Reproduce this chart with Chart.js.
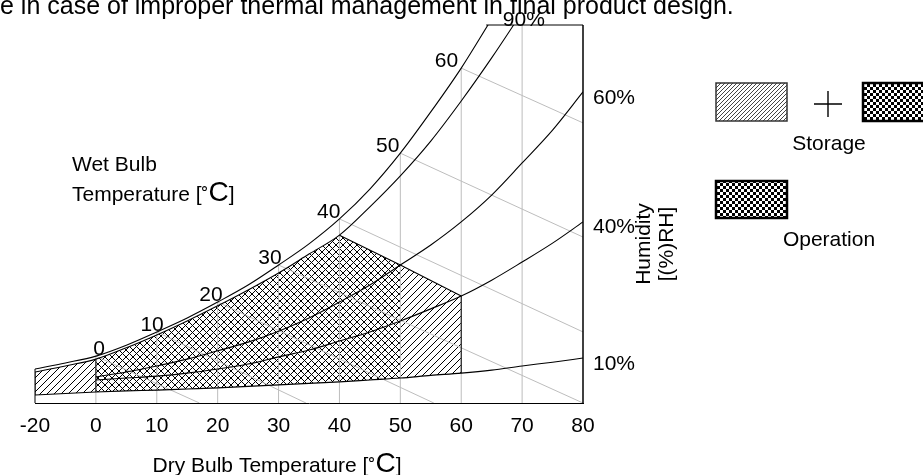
<!DOCTYPE html>
<html><head><meta charset="utf-8">
<script src="https://cdn.jsdelivr.net/npm/chart.js@4.4.1/dist/chart.umd.min.js"></script>
<style>html,body{margin:0;padding:0;background:#fff;}#wrap{width:923px;height:475px;position:relative;}</style>
</head><body><div id="wrap"><canvas id="c"></canvas></div>
<script>
// ---------- data ----------
const xTickLabels = ['-20','0','10','20','30','40','50','60','70','80'];
// saturation line (100 %), y in relative humidity-ratio units (0..100 = plot height)
const satTemps  = [-20,-10,0,5,10,15,20,25,30,35,40,45,50,55,60,65];
const satValues = [9.0,10.6,12.4,15.3,18.8,22.5,26.7,31.2,36.5,42.1,48.7,56.6,66.1,77.0,88.6,101.6];
const rh90Temps  = [-20,-10,0,5,10,15,20,25,30,35,40,45,50,55,60,65,70];
const rh90Values = [8.2,9.8,11.6,14.6,18.0,21.7,25.7,29.9,34.4,39.4,44.4,51.9,60.1,69.3,79.9,91.3,103.4];
const rh60Temps  = [0,5,10,15,20,25,30,35,40,45,50,55,60,65,70,75,80];
const rh60Values = [6.9,8.2,9.8,11.6,13.8,16.1,19.0,22.5,26.7,31.2,36.5,41.8,47.9,55.0,63.5,72.2,82.3];
const rh40Temps  = [0,5,10,15,20,25,30,35,40,45,50,55,60,65,70,75,80];
const rh40Values = [6.1,6.6,7.1,7.9,9.0,10.3,12.2,14.0,16.4,18.8,21.7,24.9,28.3,32.5,37.3,42.3,47.9];
const rh10Temps  = [-20,-10,0,5,10,15,20,25,30,35,40,45,50,55,60,65,70,75,80];
const rh10Values = [2.1,2.5,2.9,3.2,3.4,3.7,4.0,4.4,4.8,5.2,5.6,6.1,6.6,7.3,7.9,8.7,9.8,10.8,11.9];
const rhLabels = ['90%','60%','40%','10%'];
const rh90TopTemp = 68.8;       // where the 90 % line leaves the top of the chart
const satTopTemp = 64.1;        // where the saturation line leaves the top
// wet bulb lines: start on saturation line at these temperatures
const wetBulbTemps     = [0,10,20,30,40,50,60];
const wetBulbEndTemps  = [17,34.5,55.5,80,80,80,80];
const wetBulbEndValues = [0,0,0,0,18.8,43.9,74.1];
// upper right edge of the storage area (40 -> 60 C)
const edgeTemps  = [40,50,60];
const edgeValues = [44.4,36.5,28.3];
const storageSpan   = [-20,60];
const operationSpan = [0,50];
const peakTemp = 40;
const gridTemps = [0,10,20,30,40,50,60,70];
const yMax = 100;
const topText = 'e in case of improper thermal management in final product design.';

// ---------- helpers ----------
const FONT = '"Liberation Sans", Arial, Helvetica, sans-serif';
const FS = 21;
const fnt = s => s + 'px ' + FONT;
Chart.defaults.font.family = FONT;
Chart.defaults.color = '#000';
const P = T => T < 0 ? (T + 20) / 20 : T / 10 + 1;   // axis position (-20..0 compressed into one step)
const pts = (t, v) => t.map((T, i) => ({x: P(T), y: v[i]}));
const within = (t, v, lo, hi) => { const a = [], b = []; t.forEach((T, i) => { if (T >= lo && T <= hi) { a.push(T); b.push(v[i]); } }); return pts(a, b); };
const at = (t, v, T) => { const i = t.indexOf(T); return i >= 0 ? Math.min(v[i], yMax) : yMax; };

function pattern(w, h, draw) {
  const c = document.createElement('canvas'); c.width = w; c.height = h;
  const g = c.getContext('2d'); draw(g, w, h); return g.createPattern(c, 'repeat');
}
const slash = pattern(7, 7, (g, w, h) => { g.strokeStyle = '#000'; g.lineWidth = 1; g.beginPath();
  g.moveTo(-1, h + 1); g.lineTo(w + 1, -1); g.moveTo(-1, 1); g.lineTo(1, -1); g.moveTo(w - 1, h + 1); g.lineTo(w + 1, h - 1); g.stroke(); });
const backslash = pattern(7, 7, (g, w, h) => { g.strokeStyle = '#000'; g.lineWidth = 1; g.beginPath();
  g.moveTo(-1, -1); g.lineTo(w + 1, h + 1); g.moveTo(w - 1, -1); g.lineTo(w + 1, 1); g.moveTo(-1, h - 1); g.lineTo(1, h + 1); g.stroke(); });
const fineSlash = pattern(4, 4, (g, w, h) => { g.fillStyle = '#fff'; g.fillRect(0, 0, w, h); g.strokeStyle = '#444'; g.lineWidth = 1; g.beginPath();
  g.moveTo(-1, h + 1); g.lineTo(w + 1, -1); g.moveTo(-1, 1); g.lineTo(1, -1); g.moveTo(w - 1, h + 1); g.lineTo(w + 1, h - 1); g.stroke(); });
const checker = pattern(6, 6, (g) => { g.fillStyle = '#000'; g.fillRect(0, 0, 6, 6); g.fillStyle = '#fff'; g.fillRect(0, 0, 3, 3); g.fillRect(3, 3, 3, 3); });

const curve = (data, extra) => Object.assign({data, borderColor: '#000', borderWidth: 1.1, pointRadius: 0, fill: false, cubicInterpolationMode: 'monotone', order: 1}, extra || {});
const seg = (a, b, color, extra) => Object.assign({data: [a, b], borderColor: color, borderWidth: 1, pointRadius: 0, fill: false, tension: 0, order: 5}, extra || {});
const area = (data, target, bg) => ({data, fill: {target}, backgroundColor: bg, borderColor: 'rgba(0,0,0,0)', borderWidth: 0, pointRadius: 0, cubicInterpolationMode: 'monotone', order: 10});

const datasets = [
  curve(pts(rh90Temps, rh90Values)),                       // 0
  curve(pts(edgeTemps, edgeValues), {cubicInterpolationMode: 'default', tension: 0}), // 1
  curve(pts(satTemps, satValues)),                         // 2
  curve(pts(rh60Temps, rh60Values)),                       // 3
  curve(pts(rh40Temps, rh40Values)),                       // 4
  curve(pts(rh10Temps, rh10Values)),                       // 5
  area(within(rh10Temps, rh10Values, storageSpan[0], peakTemp), 0, slash),
  area(within(rh10Temps, rh10Values, peakTemp, storageSpan[1]), 1, slash),
  area(within(rh10Temps, rh10Values, operationSpan[0], peakTemp), 0, backslash),
  area(within(rh10Temps, rh10Values, peakTemp, operationSpan[1]), 1, backslash),
];
// grey dry-bulb verticals
gridTemps.forEach(T => datasets.push(seg({x: P(T), y: 0}, {x: P(T), y: at(satTemps, satValues, T)}, '#bdbdbd')));
// grey wet-bulb lines
wetBulbTemps.forEach((T, i) => datasets.push(seg({x: P(T), y: at(satTemps, satValues, T)}, {x: P(wetBulbEndTemps[i]), y: wetBulbEndValues[i]}, '#bdbdbd')));
// black edges of the hatched areas
[storageSpan[0], operationSpan[0]].forEach(T => datasets.push(seg({x: P(T), y: at(rh10Temps, rh10Values, T)}, {x: P(T), y: at(rh90Temps, rh90Values, T)}, '#000', {order: 2})));
datasets.push(seg({x: P(storageSpan[1]), y: at(rh10Temps, rh10Values, storageSpan[1])}, {x: P(storageSpan[1]), y: at(edgeTemps, edgeValues, storageSpan[1])}, '#000', {order: 2}));
// frame following the saturation line
datasets.push(seg({x: P(-20), y: 0}, {x: P(-20), y: at(satTemps, satValues, -20)}, '#000', {order: 2, clip: false}));
datasets.push(seg({x: P(80), y: 0}, {x: P(80), y: yMax}, '#000', {order: 2, clip: false, borderWidth: 1.5}));
datasets.push(seg({x: P(satTopTemp), y: yMax}, {x: P(80), y: yMax}, '#000', {order: 2, clip: false}));

function richText(ctx, parts, x, y, align) {
  let w = 0; parts.forEach(p => { ctx.font = fnt(p[1]); w += ctx.measureText(p[0]).width; });
  let cx = align === 'center' ? x - w / 2 : x;
  ctx.textAlign = 'left';
  parts.forEach(p => { ctx.font = fnt(p[1]); ctx.fillText(p[0], cx, y + (p[2] || 0)); cx += ctx.measureText(p[0]).width; });
}

const annot = {
  id: 'annot',
  afterDraw(chart) {
    const {ctx, chartArea: ca, scales: {x, y}} = chart;
    const X = T => x.getPixelForValue(P(T));
    const Y = v => y.getPixelForValue(v);
    ctx.save();
    ctx.fillStyle = '#000'; ctx.strokeStyle = '#000';
    ctx.textBaseline = 'alphabetic';
    // cut-off document text at the top
    ctx.font = fnt(25); ctx.textAlign = 'left';
    ctx.fillText(topText, 0, 14);
    // wet bulb temperature numbers
    ctx.font = fnt(FS); ctx.textAlign = 'right';
    wetBulbTemps.forEach((T, k) => ctx.fillText(String(T), X(T) + 9 - 2 * k, Y(at(satTemps, satValues, T)) - 1));
    // RH labels
    ctx.textAlign = 'center';
    ctx.fillText(rhLabels[0], X(rh90TopTemp) + 9, ca.top + 1);
    ctx.textAlign = 'left'; ctx.textBaseline = 'middle';
    ctx.fillText(rhLabels[1], ca.right + 10, Y(rh60Values[rh60Values.length - 1]) + 6);
    ctx.fillText(rhLabels[2], ca.right + 10, Y(rh40Values[rh40Values.length - 1]) + 5);
    ctx.fillText(rhLabels[3], ca.right + 10, Y(rh10Values[rh10Values.length - 1]) + 6);
    ctx.textBaseline = 'alphabetic';
    // wet bulb title
    ctx.font = fnt(FS); ctx.textAlign = 'left';
    ctx.fillText('Wet Bulb', 72, 171);
    richText(ctx, [['Temperature [', FS], ['\u02DA', FS, 2], ['C', 28], [']', FS]], 72, 201, 'left');
    // x title
    richText(ctx, [['Dry Bulb Temperature [', FS], ['\u02DA', FS, 2], ['C', 28], [']', FS]], 277, 472, 'center');
    // humidity title (rotated)
    ctx.save(); ctx.translate(656, 244); ctx.rotate(-Math.PI / 2);
    ctx.font = fnt(FS); ctx.textAlign = 'center'; ctx.textBaseline = 'middle';
    ctx.fillText('Humidity', 0, -11.5); ctx.fillText('[(%)RH]', 0, 11.5);
    ctx.restore();
    // legend
    ctx.fillStyle = fineSlash; ctx.fillRect(716, 83, 71, 38);
    ctx.lineWidth = 1.5; ctx.strokeStyle = '#333'; ctx.strokeRect(716, 83, 71, 38);
    ctx.fillStyle = checker; ctx.fillRect(863, 83, 71, 38);
    ctx.lineWidth = 2.5; ctx.strokeStyle = '#000'; ctx.strokeRect(863, 83, 71, 38);
    ctx.fillStyle = checker; ctx.fillRect(716, 181, 71, 37);
    ctx.strokeRect(716, 181, 71, 37);
    ctx.lineWidth = 1.4; ctx.beginPath();
    ctx.moveTo(814, 104); ctx.lineTo(842, 104); ctx.moveTo(828, 91); ctx.lineTo(828, 117); ctx.stroke();
    ctx.fillStyle = '#000'; ctx.font = fnt(FS); ctx.textAlign = 'center';
    ctx.fillText('Storage', 829, 150);
    ctx.fillText('Operation', 829, 246);
    ctx.restore();
  }
};

new Chart(document.getElementById('c'), {
  type: 'line',
  data: {datasets},
  plugins: [annot],
  options: {
    responsive: true, maintainAspectRatio: false, animation: false, devicePixelRatio: 1, events: [],
    layout: {padding: {left: 35, right: 340, top: 25, bottom: 0}},
    plugins: {legend: {display: false}, tooltip: {enabled: false}, title: {display: false}},
    scales: {
      x: {type: 'linear', min: 0, max: 9, afterFit(s) { s.height = 72; },
          grid: {display: false, drawTicks: false}, border: {display: true, color: '#000', width: 1},
          ticks: {stepSize: 1, autoSkip: false, maxRotation: 0, padding: 11, color: '#000', font: {size: FS, family: FONT},
                  callback: v => xTickLabels[v] ?? ''}},
      y: {type: 'linear', min: 0, max: yMax, display: false}
    }
  }
});
</script></body></html>
